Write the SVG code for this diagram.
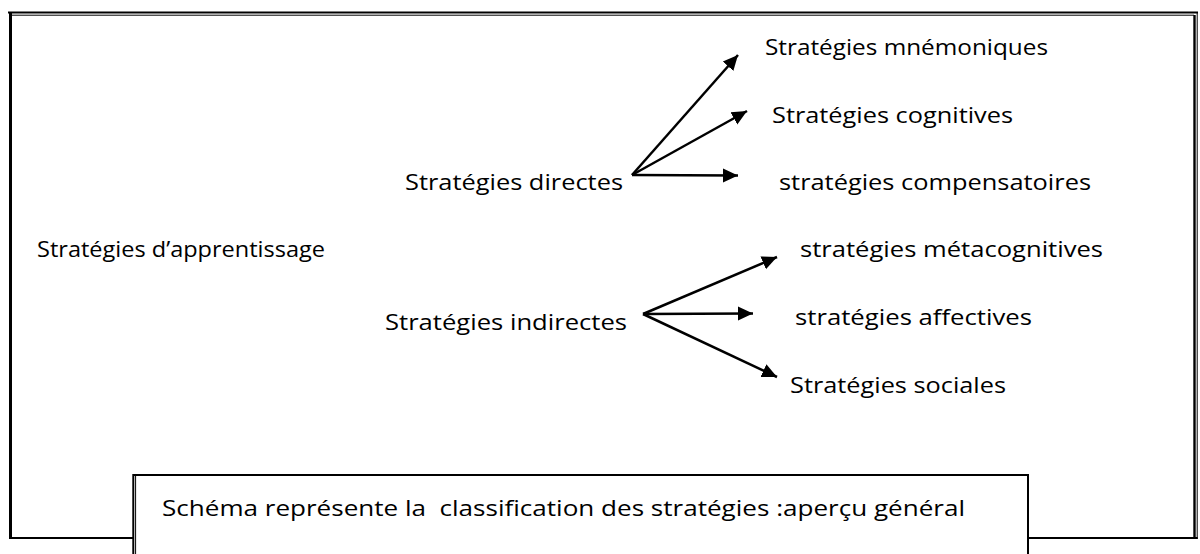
<svg xmlns="http://www.w3.org/2000/svg" width="1200" height="554" viewBox="0 0 1200 554">
<style>
  text { font-family: "Open Sans", "Lato", "Liberation Sans", sans-serif; font-size: 22px; fill: #000; }
  .conn line { stroke: #000; stroke-width: 2.5; }
  .frame { fill: none; stroke: #000; }
</style>
<defs>
  <marker id="arrow" markerUnits="userSpaceOnUse" markerWidth="16" markerHeight="16" viewBox="0 0 16 16" refX="15" refY="8" orient="auto">
    <path d="M0,1 L15,8 L0,15 Z" fill="#000"/>
  </marker>
</defs>
<rect width="1200" height="554" fill="#fff"/>
<g id="frame">
  <line class="frame" x1="8" y1="12.5" x2="1198" y2="12.5" stroke-width="2"/>
  <line class="frame" x1="12" y1="15.2" x2="1194" y2="15.2" stroke-width="1"/>
  <line class="frame" x1="10.5" y1="12" x2="10.5" y2="539" stroke-width="3"/>
  <line class="frame" x1="1194.5" y1="15" x2="1194.5" y2="539" stroke-width="2.4"/>
  <line class="frame" x1="1197.2" y1="12" x2="1197.2" y2="539" stroke-width="1"/>
  <line class="frame" x1="9" y1="538" x2="1197.7" y2="538" stroke-width="2"/>
</g>
<g id="connectors" class="conn">
  <line x1="632" y1="175" x2="738" y2="55" marker-end="url(#arrow)"/>
  <line x1="632" y1="175" x2="747" y2="111" marker-end="url(#arrow)"/>
  <line x1="632" y1="175" x2="738" y2="175.5" marker-end="url(#arrow)"/>
  <line x1="643" y1="314" x2="777" y2="257" marker-end="url(#arrow)"/>
  <line x1="643" y1="314" x2="753" y2="313.5" marker-end="url(#arrow)"/>
  <line x1="643" y1="314" x2="777" y2="377" marker-end="url(#arrow)"/>
</g>
<g id="node-apprentissage"><text x="37" y="257" textLength="288" lengthAdjust="spacingAndGlyphs">Stratégies d’apprentissage</text></g>
<g id="node-directes"><text x="405" y="190" textLength="218" lengthAdjust="spacingAndGlyphs">Stratégies directes</text></g>
<g id="node-indirectes"><text x="385" y="330" textLength="242" lengthAdjust="spacingAndGlyphs">Stratégies indirectes</text></g>
<g id="node-mnemoniques"><text x="765" y="55" textLength="283" lengthAdjust="spacingAndGlyphs">Stratégies mnémoniques</text></g>
<g id="node-cognitives"><text x="772" y="123" textLength="241" lengthAdjust="spacingAndGlyphs">Stratégies cognitives</text></g>
<g id="node-compensatoires"><text x="779" y="190" textLength="312" lengthAdjust="spacingAndGlyphs">stratégies compensatoires</text></g>
<g id="node-metacognitives"><text x="800" y="257" textLength="303" lengthAdjust="spacingAndGlyphs">stratégies métacognitives</text></g>
<g id="node-affectives"><text x="795" y="325" textLength="237" lengthAdjust="spacingAndGlyphs">stratégies affectives</text></g>
<g id="node-sociales"><text x="790" y="393" textLength="216" lengthAdjust="spacingAndGlyphs">Stratégies sociales</text></g>
<g id="caption">
  <rect x="133.3" y="475" width="894.7" height="90" fill="#fff" stroke="#000" stroke-width="2"/>
  <line x1="135.6" y1="476" x2="135.6" y2="554" stroke="#000" stroke-width="1"/>
  <text x="162" y="516" textLength="803" lengthAdjust="spacingAndGlyphs" xml:space="preserve">Schéma représente la  classification des stratégies :aperçu général</text>
</g>
</svg>
